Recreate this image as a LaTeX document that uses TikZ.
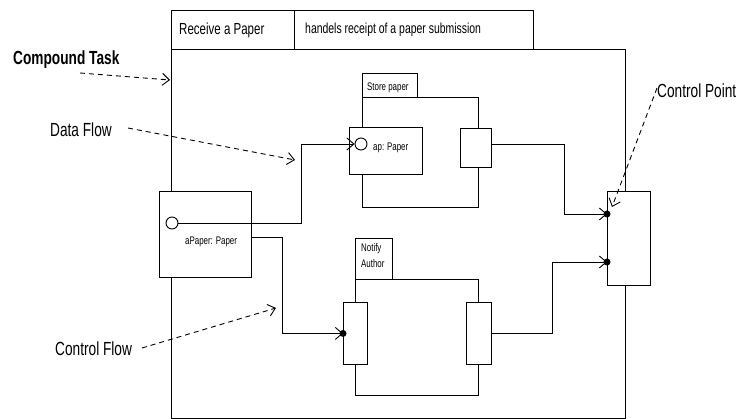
\documentclass[tikz,border=0pt]{standalone}
\usepackage{fontspec}
\setmainfont[FakeStretch=0.72]{Liberation Sans}
\usetikzlibrary{arrows.meta}

\tikzset{
  box/.style={draw, fill=white, line width=0.9pt, inner sep=0pt, anchor=north west},
  port/.style={draw, fill=white, circle, line width=0.9pt, minimum size=12pt, inner sep=0pt},
  cdot/.style={fill, circle, minimum size=7pt, inner sep=0pt},
  flow/.style={line width=0.9pt, -{Straight Barb[length=7pt,width=12pt]}},
  note/.style={line width=0.9pt, dash pattern=on 5pt off 4pt, -{Straight Barb[length=7pt,width=12pt]}},
  lbl/.style={anchor=base west, inner sep=0pt, font=\fontsize{19}{22}\selectfont},
  small/.style={anchor=base west, inner sep=0pt, font=\fontsize{11}{13}\selectfont},
}

\begin{document}
\begin{tikzpicture}[x=1pt,y=-1pt]
  \useasboundingbox (0,0) rectangle (737,419);

  % compound task frame and header
  \node[box, fill=none, minimum width=454pt, minimum height=369pt] (frame) at (171,49) {};
  \node[box, minimum width=123pt, minimum height=39pt] (hdrName) at (171,10) {};
  \node[box, minimum width=239pt, minimum height=39pt] (hdrDesc) at (294,10) {};
  \node[anchor=base west, inner sep=0pt, font=\fontsize{16}{19}\selectfont] (tName) at (179,35) {Receive a Paper};
  \node[anchor=base west, inner sep=0pt, font=\fontsize{14.5}{17}\selectfont] (tDesc) at (305,34) {handels receipt of a paper submission};

  % store paper
  \node[box, minimum width=116pt, minimum height=110pt] (storeFrame) at (362,97) {};
  \node[box, minimum width=55pt, minimum height=24pt] (storeTab) at (362,73) {};
  \node[small] (tStore) at (367,91) {Store paper};
  \node[box, minimum width=73pt, minimum height=47pt] (apBox) at (349,127) {};
  \node[port] (apIn) at (361,144) {};
  \node[small] (tAp) at (373,151) {ap: Paper};
  \node[box, minimum width=31pt, minimum height=39pt] (storeOut) at (460,128) {};

  % input object
  \node[box, minimum width=92pt, minimum height=86pt] (aBox) at (159,191) {};
  \node[port] (aOut) at (172,223) {};
  \node[small] (tA) at (185,245) {aPaper: Paper};

  % notify author
  \node[box, minimum width=123pt, minimum height=116pt] (notifyFrame) at (355,279) {};
  \node[box, minimum width=37pt, minimum height=41pt] (notifyTab) at (355,238) {};
  \node[small] (tNotify) at (361,252) {Notify};
  \node[small] (tAuthor) at (361,268) {Author};
  \node[box, minimum width=24pt, minimum height=62pt] (notifyIn) at (343,302) {};
  \node[box, minimum width=25pt, minimum height=62pt] (notifyOut) at (466,302) {};

  % control point
  \node[box, minimum width=43pt, minimum height=94pt] (ctrl) at (607,191) {};
  \coordinate (cp1) at (607,214);
  \coordinate (cp2) at (607,262);

  % flows
  \coordinate (df) at (301,144);
  \coordinate (cf) at (282,237);
  \coordinate (j1) at (564,214);
  \coordinate (j2) at (552,262);
  \draw[flow] (aOut.east) -| (df) -- (apIn.west);
  \draw[flow] (cf -| aBox.east) -- (cf) |- (notifyIn.west);
  \draw[flow] (storeOut.east |- apIn) -| (j1) -- (cp1);
  \draw[flow] (notifyOut.east) -| (j2) -- (cp2);
  \node[cdot] at (notifyIn.west) {};
  \node[cdot] at (cp1) {};
  \node[cdot] at (cp2) {};

  % annotations
  \node[lbl, font=\bfseries\fontsize{19}{22}\selectfont] (lCompound) at (13,65) {Compound Task};
  \node[lbl] (lData) at (50,137) {Data Flow};
  \node[lbl] (lCtrlFlow) at (55,356) {Control Flow};
  \node[lbl] (lCtrlPoint) at (657,98) {Control Point};
  \coordinate (nCompound) at (80,73);
  \coordinate (nData) at (128,128);
  \coordinate (nCtrlFlow) at (142,348);
  \coordinate (nCtrlPoint) at (657,88);
  \draw[note] (nCompound) -- (170,80);
  \draw[note] (nData) -- (295,160);
  \draw[note] (nCtrlFlow) -- (276,308);
  \draw[note] (nCtrlPoint) -- (612,207);
\end{tikzpicture}
\end{document}
